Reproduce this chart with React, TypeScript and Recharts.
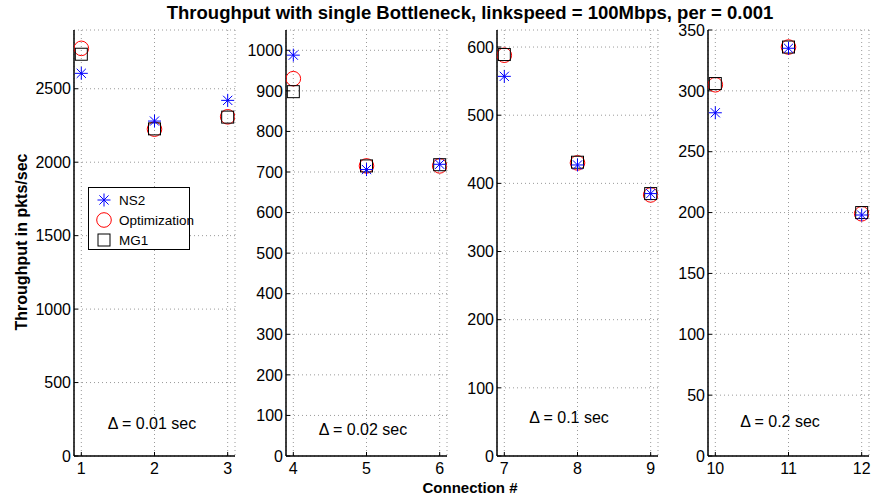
import { ScatterChart, Scatter, XAxis, YAxis, CartesianGrid, Legend } from "recharts"

const CONNECTIONS = [1, 2, 3, 4, 5, 6, 7, 8, 9, 10, 11, 12]
const NS2 = [2605, 2280, 2421, 988, 706, 719, 557, 427, 385, 282, 335, 198]
const OPTIMIZATION = [2775, 2225, 2309, 930, 715, 715, 588, 430, 383, 305, 336, 199]
const MG1 = [2735, 2227, 2307, 898, 715, 718, 589, 431, 385, 306, 336, 200]

const X_TICKS = [[1, 2, 3], [4, 5, 6], [7, 8, 9], [10, 11, 12]]
const Y_TICKS = [
  [0, 500, 1000, 1500, 2000, 2500],
  [0, 100, 200, 300, 400, 500, 600, 700, 800, 900, 1000],
  [0, 100, 200, 300, 400, 500, 600],
  [0, 50, 100, 150, 200, 250, 300, 350],
]
const Y_MAX = [2900, 1050, 625, 350]
const DELTA_LABELS = ["Δ = 0.01 sec", "Δ = 0.02 sec", "Δ = 0.1 sec", "Δ = 0.2 sec"]

const TITLE = "Throughput with single Bottleneck, linkspeed = 100Mbps, per = 0.001"

// layout
const PANEL_LEFT = [74, 286, 497, 708]
const PLOT_W = 161
const Y_AXIS_W = 50
const TICK_FONT = 16
const DELTA_POS = [
  { x: 152, y: 424 },
  { x: 363, y: 430 },
  { x: 569, y: 418 },
  { x: 780, y: 422 },
]

const Asterisk = ({ cx, cy }: any) => {
  const s = 6.5
  const d = 4.6
  return (
    <g stroke="#0000ff" strokeWidth={1}>
      <line x1={cx - s} y1={cy} x2={cx + s} y2={cy} />
      <line x1={cx} y1={cy - s} x2={cx} y2={cy + s} />
      <line x1={cx - d} y1={cy - d} x2={cx + d} y2={cy + d} />
      <line x1={cx - d} y1={cy + d} x2={cx + d} y2={cy - d} />
    </g>
  )
}
const Ring = ({ cx, cy }: any) => (
  <circle cx={cx} cy={cy} r={7.3} fill="none" stroke="#ff0000" strokeWidth={1} />
)
const Box = ({ cx, cy }: any) => (
  <rect x={cx - 6} y={cy - 6} width={12} height={12} fill="none" stroke="#000" strokeWidth={1} />
)

const SERIES = [
  { name: "NS2", values: NS2, Shape: Asterisk },
  { name: "Optimization", values: OPTIMIZATION, Shape: Ring },
  { name: "MG1", values: MG1, Shape: Box },
]
// draw order: circles, squares, then asterisks on top
const DRAW_ORDER = [1, 2, 0]

const YTick = ({ x, y, payload }: any) => (
  <text x={x} y={y} dy="0.355em" textAnchor="end" fontSize={TICK_FONT} fill="#000">
    {payload.value}
  </text>
)
const XTick = ({ x, y, payload }: any) => (
  <text x={x} y={y} dy="0.71em" textAnchor="middle" fontSize={TICK_FONT} fill="#000">
    {payload.value}
  </text>
)

function LegendBox() {
  return (
    <div
      style={{
        border: "1.3px solid #000",
        background: "#fff",
        width: 102,
        height: 63,
        boxSizing: "border-box",
        paddingTop: 2,
      }}
    >
      {SERIES.map(({ name, Shape }) => (
        <div key={name} style={{ display: "flex", alignItems: "center", height: 20 }}>
          <svg width={30} height={20} style={{ flex: "none" }}>
            <Shape cx={15} cy={10} />
          </svg>
          <span style={{ fontSize: 13.5, color: "#000", whiteSpace: "nowrap" }}>{name}</span>
        </div>
      ))}
    </div>
  )
}

function Panel({ index }: { index: number }) {
  const xt = X_TICKS[index]
  const xDomain = [xt[0] - 0.1, xt[xt.length - 1] + 0.1]
  const yDomain = [0, Y_MAX[index]]
  const rows = CONNECTIONS.map((c, i) => ({ c, i })).filter(({ c }) => xt.includes(c))
  return (
    <div style={{ position: "absolute", left: PANEL_LEFT[index] - Y_AXIS_W, top: 0 }}>
      <ScatterChart
        width={Y_AXIS_W + PLOT_W + 2}
        height={504}
        margin={{ top: 30, right: 2, bottom: 0, left: 0 }}
      >
        <CartesianGrid stroke="#9a9a9a" strokeDasharray="1 3" />
        <XAxis
          type="number"
          dataKey="x"
          domain={xDomain}
          ticks={xt}
          allowDataOverflow
          height={48}
          tickSize={-4}
          tickMargin={11}
          tick={<XTick />}
          axisLine={{ stroke: "#000", strokeWidth: 1.5 }}
          tickLine={{ stroke: "#000" }}
        />
        <XAxis
          xAxisId="top"
          orientation="top"
          type="number"
          domain={xDomain}
          ticks={xt}
          allowDataOverflow
          height={0}
          tickSize={-4}
          tick={false}
          axisLine={{ stroke: "#000", strokeWidth: 1.5 }}
          tickLine={{ stroke: "#000" }}
        />
        <YAxis
          type="number"
          dataKey="y"
          domain={yDomain}
          ticks={Y_TICKS[index]}
          allowDataOverflow
          width={Y_AXIS_W}
          tickSize={-4}
          tickMargin={7}
          tick={<YTick />}
          axisLine={{ stroke: "#000", strokeWidth: 1.5 }}
          tickLine={{ stroke: "#000" }}
        />
        <YAxis
          yAxisId="right"
          orientation="right"
          type="number"
          domain={yDomain}
          ticks={Y_TICKS[index]}
          allowDataOverflow
          width={0}
          tickSize={-4}
          tick={false}
          axisLine={{ stroke: "#000", strokeWidth: 1.5 }}
          tickLine={{ stroke: "#000" }}
        />
        {DRAW_ORDER.map((k) => {
          const s = SERIES[k]
          return (
            <Scatter
              key={s.name}
              name={s.name}
              data={rows.map(({ c, i }) => ({ x: c, y: s.values[i] }))}
              shape={(p: any) => <s.Shape cx={p.cx} cy={p.cy} />}
              isAnimationActive={false}
            />
          )
        })}
        {index === 0 && (
          <Legend
            layout="vertical"
            align="center"
            verticalAlign="middle"
            content={() => <LegendBox />}
            wrapperStyle={{ position: "absolute", left: 88 - (PANEL_LEFT[0] - Y_AXIS_W), top: 187, width: 102 }}
          />
        )}
      </ScatterChart>
    </div>
  )
}

export default function App() {
  return (
    <div
      style={{
        position: "absolute",
        left: 0,
        top: 0,
        width: 872,
        height: 504,
        background: "#fff",
        fontFamily: "'Liberation Sans', Arial, sans-serif",
        color: "#000",
        overflow: "hidden",
      }}
    >
      {[0, 1, 2, 3].map((i) => (
        <Panel key={i} index={i} />
      ))}
      {DELTA_LABELS.map((t, i) => (
        <div
          key={t}
          style={{
            position: "absolute",
            left: DELTA_POS[i].x - 60,
            width: 120,
            top: DELTA_POS[i].y - 9,
            textAlign: "center",
            fontSize: 16,
            lineHeight: "18px",
          }}
        >
          {t}
        </div>
      ))}
      <div
        style={{
          position: "absolute",
          left: 0,
          width: 940,
          top: 2,
          textAlign: "center",
          fontSize: 18.5,
          fontWeight: "bold",
          lineHeight: "22px",
          whiteSpace: "nowrap",
        }}
      >
        {TITLE}
      </div>
      <div
        style={{
          position: "absolute",
          left: 370,
          width: 200,
          top: 479,
          textAlign: "center",
          fontSize: 15,
          fontWeight: "bold",
          lineHeight: "18px",
        }}
      >
        Connection #
      </div>
      <div
        style={{
          position: "absolute",
          left: 22 - 120,
          top: 242 - 10,
          width: 240,
          textAlign: "center",
          fontSize: 16,
          fontWeight: "bold",
          lineHeight: "20px",
          transform: "rotate(-90deg)",
          whiteSpace: "nowrap",
        }}
      >
        Throughput in pkts/sec
      </div>
    </div>
  )
}
